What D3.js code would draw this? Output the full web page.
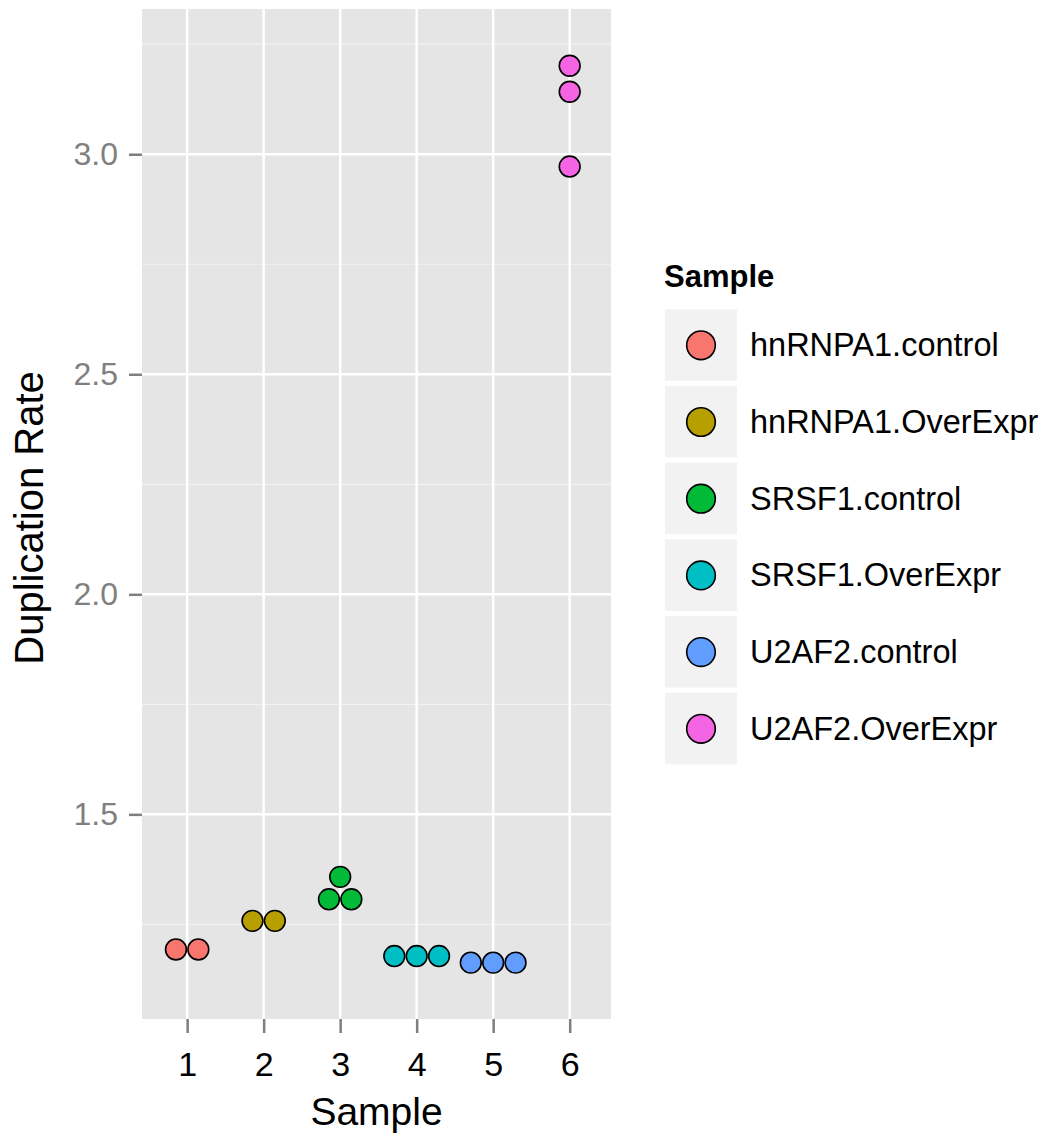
<!DOCTYPE html>
<html>
<head>
<meta charset="utf-8">
<script src="https://cdn.jsdelivr.net/npm/d3@7"></script>
<style>
  body { margin: 0; background: #fff; }
  text { font-family: "Liberation Sans", Arial, Helvetica, sans-serif; }
</style>
</head>
<body>
<div id="chart"></div>
<script>
// --- Data ---
const samples = [1, 2, 3, 4, 5, 6];
const groups = ['hnRNPA1.control', 'hnRNPA1.OverExpr', 'SRSF1.control',
                'SRSF1.OverExpr', 'U2AF2.control', 'U2AF2.OverExpr'];
const rates = [
  [1.193, 1.193],
  [1.258, 1.258],
  [1.358, 1.307, 1.307],
  [1.178, 1.178, 1.178],
  [1.163, 1.163, 1.163],
  [3.201, 3.142, 2.972]
];
const colors = ['#F8766D', '#B79F00', '#00BA38', '#00BFC4', '#619CFF', '#F564E3'];
const yTicks = [1.5, 2.0, 2.5, 3.0];
const yMinor = [1.25, 1.75, 2.25, 2.75, 3.25];

// --- Layout ---
const width = 1049, height = 1137;
const panel = { left: 142, right: 611, top: 9, bottom: 1019 };
const dotR = 10.4;

const svg = d3.select('#chart').append('svg')
  .attr('width', width)
  .attr('height', height);

const x = d3.scaleLinear()
  .domain([0.41, 6.54])
  .range([panel.left, panel.right]);

const y = d3.scaleLinear()
  .domain([1.035, 3.330])
  .range([panel.bottom, panel.top]);

const color = d3.scaleOrdinal().domain(groups).range(colors);

// panel background
svg.append('rect')
  .attr('x', panel.left).attr('y', panel.top)
  .attr('width', panel.right - panel.left)
  .attr('height', panel.bottom - panel.top)
  .attr('fill', '#e5e5e5');

// minor grid
svg.append('g').selectAll('line')
  .data(yMinor)
  .join('line')
  .attr('x1', panel.left).attr('x2', panel.right)
  .attr('y1', d => y(d)).attr('y2', d => y(d))
  .attr('stroke', '#f2f2f2').attr('stroke-width', 1.2);

// major grid
svg.append('g').selectAll('line')
  .data(yTicks)
  .join('line')
  .attr('x1', panel.left).attr('x2', panel.right)
  .attr('y1', d => y(d)).attr('y2', d => y(d))
  .attr('stroke', '#fff').attr('stroke-width', 2.5);

svg.append('g').selectAll('line')
  .data(samples)
  .join('line')
  .attr('x1', d => x(d)).attr('x2', d => x(d))
  .attr('y1', panel.top).attr('y2', panel.bottom)
  .attr('stroke', '#fff').attr('stroke-width', 2.5);

// --- Axes ---
const yAxis = svg.append('g')
  .attr('transform', `translate(${panel.left},0)`)
  .call(d3.axisLeft(y).tickValues(yTicks).tickFormat(d3.format('.1f')).tickSize(13).tickPadding(11));
yAxis.select('.domain').remove();
yAxis.selectAll('line').attr('stroke', '#7f7f7f').attr('stroke-width', 2.5);
yAxis.selectAll('text')
  .attr('fill', '#7f7f7f')
  .style('font-size', '32px');

const xAxis = svg.append('g')
  .attr('transform', `translate(0,${panel.bottom})`)
  .call(d3.axisBottom(x).tickValues(samples).tickFormat(d3.format('d')).tickSize(14).tickPadding(19));
xAxis.select('.domain').remove();
xAxis.selectAll('line').attr('stroke', '#7f7f7f').attr('stroke-width', 2.5);
xAxis.selectAll('text')
  .attr('fill', '#000')
  .style('font-size', '34px');

// axis titles
svg.append('text')
  .attr('x', (panel.left + panel.right) / 2)
  .attr('y', 1125)
  .attr('text-anchor', 'middle')
  .style('font-size', '39px')
  .text('Sample');

svg.append('text')
  .attr('transform', 'translate(43,518) rotate(-90)')
  .attr('text-anchor', 'middle')
  .style('font-size', '40px')
  .text('Duplication Rate');

// --- Dots (stacked horizontally when values coincide) ---
const dots = [];
rates.forEach((vals, i) => {
  const bins = d3.group(vals, v => v);
  bins.forEach((arr, v) => {
    arr.forEach((_, k) => {
      dots.push({ sample: samples[i], group: groups[i], value: v, offset: k - (arr.length - 1) / 2 });
    });
  });
});

svg.append('g').selectAll('circle')
  .data(dots)
  .join('circle')
  .attr('cx', d => x(d.sample) + d.offset * dotR * 2.15)
  .attr('cy', d => y(d.value))
  .attr('r', dotR)
  .attr('fill', d => color(d.group))
  .attr('stroke', '#000')
  .attr('stroke-width', 1.6);

// --- Legend ---
const legend = svg.append('g').attr('transform', 'translate(665,0)');
legend.append('text')
  .attr('x', -1).attr('y', 287)
  .style('font-size', '31px')
  .style('font-weight', 'bold')
  .text('Sample');

const key = legend.selectAll('g.key')
  .data(groups)
  .join('g')
  .attr('class', 'key')
  .attr('transform', (d, i) => `translate(0,${309.3 + i * 76.7})`);

key.append('rect')
  .attr('width', 72).attr('height', 71.5)
  .attr('fill', '#f2f2f2');

key.append('circle')
  .attr('cx', 36).attr('cy', 36)
  .attr('r', 14.3)
  .attr('fill', d => color(d))
  .attr('stroke', '#000')
  .attr('stroke-width', 1.6);

key.append('text')
  .attr('x', 85).attr('y', 47)
  .style('font-size', '32.5px')
  .text(d => d);
</script>
</body>
</html>
